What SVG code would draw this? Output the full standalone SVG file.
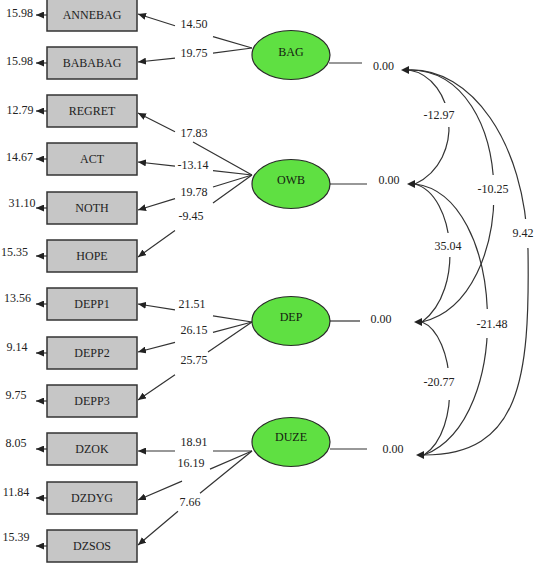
<svg xmlns="http://www.w3.org/2000/svg" width="535" height="574" viewBox="0 0 535 574">
  <defs>
    <marker id="head" viewBox="0 0 8 7" refX="8" refY="3.5" markerWidth="8" markerHeight="7" markerUnits="userSpaceOnUse" orient="auto">
      <path d="M0,0 L8,3.5 L0,7 z" fill="#222"/>
    </marker>
  </defs>
  <style>
    text { font-family: "Liberation Serif", "Times New Roman", serif; font-size: 12px; fill: #222; text-anchor: middle; }
    .box { fill: #c6c6c6; stroke: #333; stroke-width: 1.5; }
    .lat { fill: #5fe042; stroke: #2a2a2a; stroke-width: 1.2; }
    .latname { fill: #142010; }
    .ln { fill: none; stroke: #333; stroke-width: 1.2; }
    .arr { fill: none; stroke: #333; stroke-width: 1.2; marker-end: url(#head); }
    .tip { fill: #222; }
    .bg { fill: #fff; }
  </style>
  <rect width="535" height="574" fill="#fff"/>

  <!-- connectors: loadings, error terms, covariances -->
  <g id="connectors">
    <!-- BAG loadings -->
    <path class="arr" d="M252,48 L213,36.7 M175,25.7 L138,14"/>
    <path class="arr" d="M252,48 L213,53.1 M175,58.1 L138,62"/>
    <!-- OWB loadings -->
    <path class="arr" d="M252,175 L193,141.9 M175,131.8 L138,113"/>
    <path class="arr" d="M252,175 L213,170.6 M175,166.2 L138,162"/>
    <path class="arr" d="M252,175 L213,187 M175,198.6 L138,210"/>
    <path class="arr" d="M252,175 L213,203 M175,230.4 L138,257"/>
    <!-- DEP loadings -->
    <path class="arr" d="M252,322 L213,315.8 M175,309.8 L138,304"/>
    <path class="arr" d="M252,322 L213,332.3 M175,342.3 L138,352"/>
    <path class="arr" d="M252,322 L208,352.1 M175,374.7 L138,400"/>
    <!-- DUZE loadings -->
    <path class="arr" d="M252,451 L213,451 M175,451 L138,451"/>
    <path class="arr" d="M252,451 L210,469.1 M182,481.1 L138,500"/>
    <path class="arr" d="M252,451 L200,493.2 M178,511.3 L138,545"/>

    <!-- error terms -->
    <path class="arr" d="M47,15 L36,15"/>
    <path class="arr" d="M47,63 L36,63"/>
    <path class="arr" d="M47,111 L36,111"/>
    <path class="arr" d="M47,159 L36,159"/>
    <path class="arr" d="M47,208 L36,208"/>
    <path class="arr" d="M47,256 L36,256"/>
    <path class="arr" d="M47,304 L36,304"/>
    <path class="arr" d="M47,353 L36,353"/>
    <path class="arr" d="M47,401 L36,401"/>
    <path class="arr" d="M47,449 L36,449"/>
    <path class="arr" d="M47,498 L36,498"/>
    <path class="arr" d="M47,546 L36,546"/>

    <!-- latent variance stubs -->
    <path class="ln" d="M329,63 L362,63"/>
    <path class="ln" d="M330,184 L367,184"/>
    <path class="ln" d="M330,321 L360,321"/>
    <path class="ln" d="M330,449 L367,449"/>

    <!-- covariances -->
    <path class="ln" d="M409,70 C456,78 466,160 415,184"/>
    <path class="ln" d="M409,70 C520,70 520,300 422,322"/>
    <path class="ln" d="M409,70 C470,68 525,140 528,250 C530,380 520,455 424,455"/>
    <path class="ln" d="M415,184 C455,195 465,290 422,322"/>
    <path class="ln" d="M415,184 C505,195 515,420 424,455"/>
    <path class="ln" d="M422,322 C455,335 462,430 424,455"/>
    <path class="tip" d="M401,70 L409,66 L409,74 z"/>
    <path class="tip" d="M407,184 L415,180 L415,188 z"/>
    <path class="tip" d="M414,322 L422,318 L422,326 z"/>
    <path class="tip" d="M416,455 L424,451 L424,459 z"/>
  </g>

  <!-- indicator boxes -->
  <g id="ANNEBAG"><rect class="box" x="47" y="-1" width="90" height="32"/><text x="92" y="19">ANNEBAG</text><text x="19.5" y="17">15.98</text></g>
  <g id="BABABAG"><rect class="box" x="47" y="47" width="90" height="32"/><text x="92" y="67">BABABAG</text><text x="19.5" y="65">15.98</text></g>
  <g id="REGRET"><rect class="box" x="47" y="95" width="90" height="32"/><text x="92" y="115">REGRET</text><text x="20" y="114">12.79</text></g>
  <g id="ACT"><rect class="box" x="47" y="143" width="90" height="32"/><text x="92" y="163">ACT</text><text x="19.5" y="161">14.67</text></g>
  <g id="NOTH"><rect class="box" x="47" y="192" width="90" height="32"/><text x="92" y="212">NOTH</text><text x="22" y="207">31.10</text></g>
  <g id="HOPE"><rect class="box" x="47" y="240" width="90" height="32"/><text x="92" y="260">HOPE</text><text x="14.5" y="256">15.35</text></g>
  <g id="DEPP1"><rect class="box" x="47" y="288" width="90" height="32"/><text x="92" y="308">DEPP1</text><text x="17.5" y="302">13.56</text></g>
  <g id="DEPP2"><rect class="box" x="47" y="337" width="90" height="32"/><text x="92" y="357">DEPP2</text><text x="17" y="351">9.14</text></g>
  <g id="DEPP3"><rect class="box" x="47" y="385" width="90" height="32"/><text x="92" y="405">DEPP3</text><text x="16" y="399">9.75</text></g>
  <g id="DZOK"><rect class="box" x="47" y="433" width="90" height="32"/><text x="92" y="453">DZOK</text><text x="16" y="447">8.05</text></g>
  <g id="DZDYG"><rect class="box" x="47" y="482" width="90" height="32"/><text x="92" y="502">DZDYG</text><text x="16" y="496">11.84</text></g>
  <g id="DZSOS"><rect class="box" x="47" y="530" width="90" height="32"/><text x="92" y="550">DZSOS</text><text x="16" y="541">15.39</text></g>

  <!-- latent factors -->
  <g id="BAG"><ellipse class="lat" cx="291" cy="55" rx="39" ry="24.5"/><text class="latname" x="291" y="56">BAG</text><text x="383.5" y="70">0.00</text></g>
  <g id="OWB"><ellipse class="lat" cx="291" cy="184" rx="39" ry="24.5"/><text class="latname" x="291" y="184">OWB</text><text x="389" y="184">0.00</text></g>
  <g id="DEP"><ellipse class="lat" cx="291" cy="321" rx="39" ry="24.5"/><text class="latname" x="291" y="321">DEP</text><text x="381" y="323">0.00</text></g>
  <g id="DUZE"><ellipse class="lat" cx="291" cy="442" rx="39" ry="24.5"/><text class="latname" x="291" y="441">DUZE</text><text x="393" y="453">0.00</text></g>

  <!-- path coefficients -->
  <g id="labels">
    <text x="194" y="28">14.50</text>
    <text x="194" y="57">19.75</text>
    <text x="194" y="137">17.83</text>
    <text x="193" y="169">-13.14</text>
    <text x="194" y="196">19.78</text>
    <text x="191" y="220">-9.45</text>
    <text x="192" y="308">21.51</text>
    <text x="194" y="334">26.15</text>
    <text x="194" y="364">25.75</text>
    <text x="194" y="446">18.91</text>
    <text x="191" y="467">16.19</text>
    <text x="190" y="506">7.66</text>

    <rect class="bg" x="421" y="103" width="36" height="24"/>
    <text x="439" y="119">-12.97</text>
    <rect class="bg" x="476" y="175" width="34" height="30"/>
    <text x="493" y="193">-10.25</text>
    <rect class="bg" x="433" y="233" width="30" height="24"/>
    <text x="448" y="250">35.04</text>
    <rect class="bg" x="509" y="219" width="26" height="29"/>
    <text x="523" y="237">9.42</text>
    <rect class="bg" x="476" y="309" width="34" height="29"/>
    <text x="492" y="328">-21.48</text>
    <rect class="bg" x="423" y="368" width="33" height="32"/>
    <text x="439" y="386">-20.77</text>
  </g>
</svg>
